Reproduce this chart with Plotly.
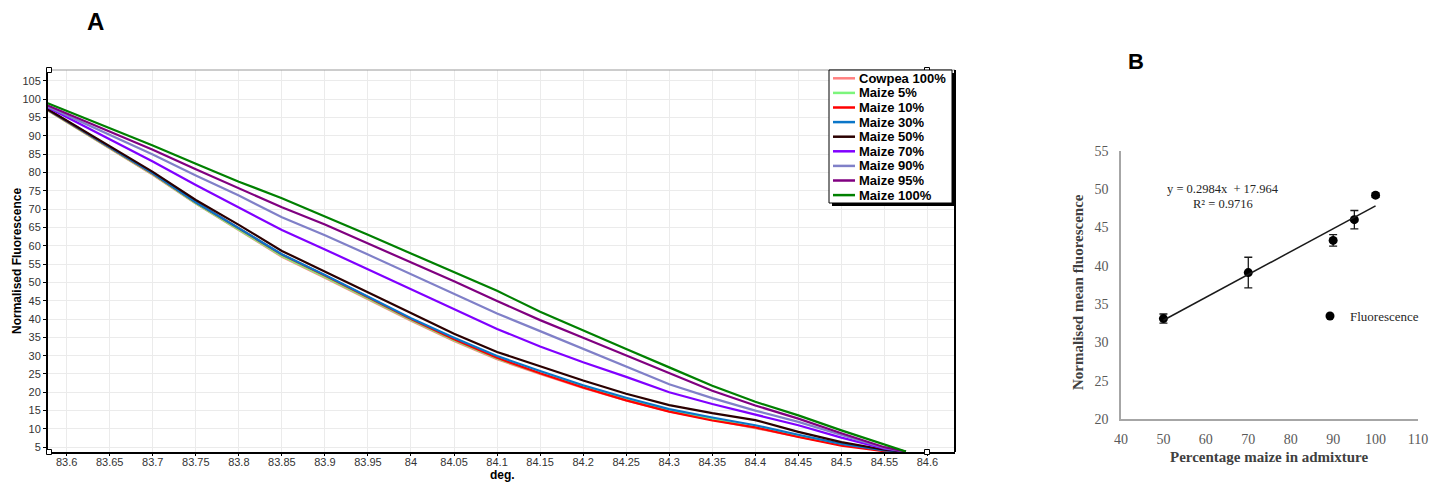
import plotly.graph_objects as go

W, H = 1443, 482

# ---------------- Panel A data (normalised melt curves) ----------------
temp_deg = [83.578, 83.65, 83.7, 83.75, 83.8, 83.85, 83.9, 83.95, 84.0, 84.05, 84.1,
            84.15, 84.2, 84.25, 84.3, 84.35, 84.4, 84.45, 84.5, 84.55, 84.575]

series_names = ["Cowpea 100%", "Maize 5%", "Maize 10%", "Maize 30%", "Maize 50%",
                "Maize 70%", "Maize 90%", "Maize 95%", "Maize 100%"]
series_colors = ["#ff8080", "#7cf57c", "#ff0000", "#0b76c8", "#2b0000",
                 "#8000ff", "#8080c8", "#800080", "#008000"]

cowpea_100 = [97.0, 86.7, 79.4, 71.5, 64.3, 57.0, 51.3, 45.4, 39.5, 34.0, 29.0,
              25.0, 21.2, 17.8, 14.8, 12.5, 10.3, 7.9, 5.6, 4.1, 3.8]
maize_5 = [97.0, 86.8, 79.5, 71.6, 64.5, 57.2, 51.5, 45.6, 39.7, 34.2, 29.2,
           25.2, 21.5, 18.0, 15.0, 12.7, 10.6, 8.1, 5.7, 4.1, 3.8]
maize_10 = [97.1, 86.9, 79.7, 71.9, 64.8, 57.6, 51.9, 46.0, 40.0, 34.5, 29.4,
            25.2, 21.3, 17.8, 14.7, 12.3, 10.4, 7.8, 5.4, 3.9, 3.8]
maize_30 = [97.2, 87.0, 79.8, 71.9, 64.9, 57.7, 52.0, 46.1, 40.2, 34.9, 29.9,
            25.8, 21.9, 18.5, 15.4, 13.1, 11.0, 8.4, 5.9, 4.1, 3.8]
maize_50 = [97.3, 87.2, 80.2, 72.5, 65.7, 58.6, 52.9, 47.3, 41.6, 36.0, 31.0,
            27.0, 23.2, 19.6, 16.5, 14.3, 12.4, 9.2, 6.4, 4.3, 3.8]
maize_70 = [97.8, 89.2, 83.0, 76.6, 70.4, 64.3, 59.0, 53.6, 48.1, 42.6, 37.3,
            32.5, 28.2, 24.2, 20.0, 16.8, 14.0, 11.0, 7.6, 4.6, 3.8]
maize_90 = [98.0, 90.3, 84.9, 79.2, 73.7, 67.8, 62.9, 57.6, 52.3, 46.9, 41.5,
            36.7, 31.8, 27.0, 22.2, 18.4, 15.0, 11.9, 8.3, 4.8, 3.8]
maize_95 = [98.3, 91.2, 86.2, 80.9, 75.8, 70.5, 65.8, 60.7, 55.5, 50.3, 44.9,
            39.7, 34.9, 30.1, 25.2, 20.4, 16.4, 12.8, 8.8, 5.0, 3.8]
maize_100 = [98.9, 92.2, 87.4, 82.4, 77.5, 73.0, 68.1, 63.0, 57.9, 52.8, 47.7,
             42.0, 36.8, 31.8, 26.8, 21.8, 17.4, 13.7, 9.6, 5.6, 3.8]

series_values = [cowpea_100, maize_5, maize_10, maize_30, maize_50,
                 maize_70, maize_90, maize_95, maize_100]

x_tick_vals_a = [83.6, 83.65, 83.7, 83.75, 83.8, 83.85, 83.9, 83.95, 84.0, 84.05, 84.1,
                 84.15, 84.2, 84.25, 84.3, 84.35, 84.4, 84.45, 84.5, 84.55, 84.6]
x_tick_text_a = ["83.6", "83.65", "83.7", "83.75", "83.8", "83.85", "83.9", "83.95", "84",
                 "84.05", "84.1", "84.15", "84.2", "84.25", "84.3", "84.35", "84.4",
                 "84.45", "84.5", "84.55", "84.6"]
y_tick_vals_a = [5, 10, 15, 20, 25, 30, 35, 40, 45, 50, 55, 60, 65, 70, 75, 80, 85, 90,
                 95, 100, 105]

# ---------------- Panel B data ----------------
maize_pct = [50, 70, 90, 95, 100]
mean_fluor = [33.1, 39.1, 43.3, 46.0, 49.2]
fluor_err = [0.6, 2.0, 0.75, 1.2, 0.3]
trend_slope = 0.2984
trend_intercept = 17.964
trend_x = [50, 100]
x_tick_vals_b = [40, 50, 60, 70, 80, 90, 100, 110]
y_tick_vals_b = [20, 25, 30, 35, 40, 45, 50, 55]


def px(x):
    return x / W


def py(y):
    return 1 - y / H


SANS = "Liberation Sans, Arial, sans-serif"
SERIF = "Liberation Serif, Times New Roman, serif"

fig = go.Figure()

for name, color, vals in zip(series_names, series_colors, series_values):
    fig.add_trace(go.Scatter(
        x=temp_deg, y=vals, mode="lines", name=name,
        line=dict(color=color, width=2.2), showlegend=False,
        xaxis="x", yaxis="y"))

# Panel B: points with error bars
fig.add_trace(go.Scatter(
    x=maize_pct, y=mean_fluor, mode="markers", name="Fluorescence",
    marker=dict(color="black", size=9),
    error_y=dict(type="data", array=fluor_err, visible=True, color="#1a1a1a",
                 thickness=1.3, width=4),
    xaxis="x2", yaxis="y2", showlegend=True, legend="legend"))

trend_y = [trend_slope * v + trend_intercept for v in trend_x]
fig.add_trace(go.Scatter(
    x=trend_x, y=trend_y, mode="lines", name="Linear (Fluorescence)",
    line=dict(color="#1a1a1a", width=1.5), xaxis="x2", yaxis="y2",
    showlegend=False))

shapes = []
annotations = []

# Frame lines of panel A
shapes.append(dict(type="line", xref="x domain", yref="y domain", x0=0, x1=1, y0=1, y1=1,
                   line=dict(color="#9a9a9a", width=1), layer="above"))
shapes.append(dict(type="line", xref="x domain", yref="y domain", x0=1, x1=1, y0=0, y1=1,
                   line=dict(color="black", width=2), layer="above"))

# selection handles at the plot corners
for hx, hy in [(49, 70), (49, 452), (927, 70), (927, 452)]:
    shapes.append(dict(type="rect", xref="paper", yref="paper",
                       x0=px(hx - 2.5), x1=px(hx + 2.5), y0=py(hy + 2.5), y1=py(hy - 2.5),
                       fillcolor="white", line=dict(color="black", width=1), layer="above"))

# Legend of panel A (box with shadow)
shapes.append(dict(type="rect", xref="paper", yref="paper",
                   x0=px(832), x1=px(955), y0=py(206), y1=py(73),
                   fillcolor="black", line=dict(width=0), layer="above"))
shapes.append(dict(type="rect", xref="paper", yref="paper",
                   x0=px(829), x1=px(952), y0=py(203), y1=py(70),
                   fillcolor="white", line=dict(color="black", width=1), layer="above"))
for i, (name, color) in enumerate(zip(series_names, series_colors)):
    yc = 78.3 + i * 14.6
    shapes.append(dict(type="line", xref="paper", yref="paper",
                       x0=px(833), x1=px(855), y0=py(yc), y1=py(yc),
                       line=dict(color=color, width=2.5), layer="above"))
    annotations.append(dict(text=name, xref="paper", yref="paper", x=px(857), y=py(yc),
                            xanchor="left", yanchor="middle", showarrow=False,
                            font=dict(family=SANS, size=13, color="black", weight="bold")))

# Panel labels and axis titles
annotations += [
    dict(text="<b>A</b>", xref="paper", yref="paper", x=px(95), y=py(22),
         xanchor="center", yanchor="middle", showarrow=False,
         font=dict(family=SANS, size=24, color="black")),
    dict(text="<b>B</b>", xref="paper", yref="paper", x=px(1136), y=py(62),
         xanchor="center", yanchor="middle", showarrow=False,
         font=dict(family=SANS, size=22, color="black")),
    dict(text="<b>Normalised Fluorescence</b>", xref="paper", yref="paper",
         x=px(17), y=py(261), xanchor="center", yanchor="middle", textangle=-90,
         showarrow=False, font=dict(family=SANS, size=12, color="black")),
    dict(text="<b>deg.</b>", xref="paper", yref="paper", x=px(502), y=py(475),
         xanchor="center", yanchor="middle", showarrow=False,
         font=dict(family=SANS, size=12, color="black")),
    dict(text="<b>Normalised mean fluorescence</b>", xref="paper", yref="paper",
         x=px(1078), y=py(292), xanchor="center", yanchor="middle", textangle=-90,
         showarrow=False, font=dict(family=SERIF, size=15, color="#404040")),
    dict(text="<b>Percentage maize in admixture</b>", xref="paper", yref="paper",
         x=px(1269), y=py(457), xanchor="center", yanchor="middle",
         showarrow=False, font=dict(family=SERIF, size=15, color="#404040")),
    dict(text="y = 0.2984x  + 17.964", xref="x2", yref="y2", x=64, y=50.0,
         xanchor="center", yanchor="middle", showarrow=False,
         font=dict(family=SERIF, size=12.5, color="#262626")),
    dict(text="R² = 0.9716", xref="x2", yref="y2", x=64, y=48.05,
         xanchor="center", yanchor="middle", showarrow=False,
         font=dict(family=SERIF, size=12.5, color="#262626")),
]

fig.update_layout(
    width=W, height=H,
    margin=dict(l=0, r=0, t=0, b=0, autoexpand=False),
    paper_bgcolor="white", plot_bgcolor="white",
    shapes=shapes, annotations=annotations,
    legend=dict(x=px(1310), y=py(316), xanchor="left", yanchor="middle",
                bgcolor="rgba(0,0,0,0)", borderwidth=0, itemwidth=30,
                font=dict(family=SERIF, size=13, color="#262626")),
    xaxis=dict(domain=[px(48), px(955)], range=[83.5783, 84.632], automargin=False,
               tickvals=x_tick_vals_a, ticktext=x_tick_text_a,
               showgrid=True, gridcolor="#ebebeb", gridwidth=1, zeroline=False,
               showline=True, linecolor="black", linewidth=2,
               ticks="outside", ticklen=2, tickcolor="black", ticklabelstandoff=-3,
               tickfont=dict(family=SANS, size=11, color="#333333"), anchor="y"),
    yaxis=dict(domain=[py(452), py(70)], range=[3.69, 108.0], automargin=False,
               tickvals=y_tick_vals_a, ticktext=[str(v) for v in y_tick_vals_a],
               showgrid=True, gridcolor="#ebebeb", gridwidth=1, zeroline=False,
               showline=True, linecolor="black", linewidth=2,
               ticks="outside", ticklen=3, tickcolor="black",
               tickfont=dict(family=SANS, size=11, color="#333333"), anchor="x"),
    xaxis2=dict(domain=[px(1121), px(1418)], range=[40, 110], tickvals=x_tick_vals_b,
                automargin=False,
                showgrid=False, zeroline=False, showline=True, linecolor="#a6a6a6",
                linewidth=1.5, ticks="outside", ticklen=6, tickcolor="rgba(0,0,0,0)",
                tickfont=dict(family=SERIF, size=14, color="#595959"), anchor="y2"),
    yaxis2=dict(domain=[py(419), py(150.7)], range=[20, 55], tickvals=y_tick_vals_b,
                automargin=False,
                showgrid=False, zeroline=False, showline=True, linecolor="#a6a6a6",
                linewidth=1.5, ticks="outside", ticklen=8, tickcolor="rgba(0,0,0,0)",
                tickfont=dict(family=SERIF, size=14, color="#595959"), anchor="x2"),
)

fig.write_html("out.html", config={"displayModeBar": False},
               post_script="document.body.style.margin='0';document.body.style.overflow='hidden';")
